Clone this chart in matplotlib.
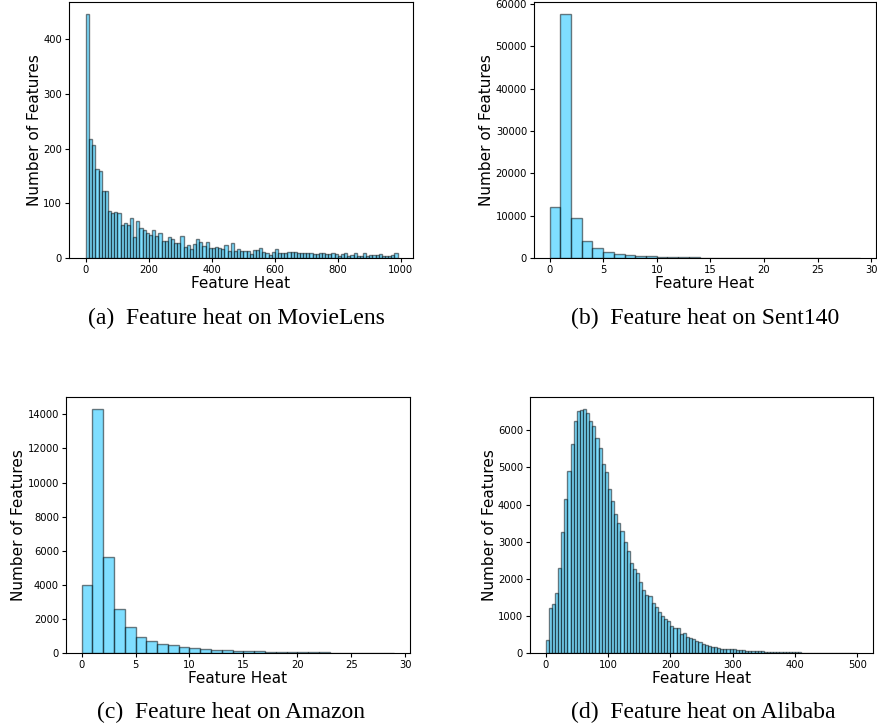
import numpy as np
import matplotlib
matplotlib.use("Agg")
import matplotlib.pyplot as plt

# bin edges (feature heat) for each dataset
movielens_edges = np.arange(0, 1000, 10)      # 99 bins, 0..990
sent140_edges = np.arange(0, 30, 1)           # 29 bins, 0..29
amazon_edges = np.arange(0, 30, 1)            # 29 bins, 0..29
alibaba_edges = np.arange(0, 505, 5)          # 100 bins, 0..500

# counts
movielens_counts = [
    446, 217, 207, 163, 159, 122, 122, 86, 82, 85,
    82, 60, 64, 60, 73, 39, 68, 54, 51, 45,
    42, 52, 40, 45, 32, 32, 39, 34, 28, 28,
    41, 21, 23, 16, 26, 35, 30, 22, 30, 18,
    18, 21, 18, 16, 24, 13, 27, 13, 16, 13,
    13, 12, 7, 15, 14, 19, 11, 9, 5, 11,
    16, 9, 9, 10, 11, 11, 11, 9, 10, 9,
    10, 9, 7, 7, 9, 9, 7, 8, 10, 7,
    4, 7, 9, 4, 5, 9, 4, 4, 10, 4,
    5, 6, 5, 7, 4, 3, 4, 5, 9,
]
sent140_counts = [
    12100, 57600, 9350, 4000, 2250, 1450, 1050, 750, 550, 380,
    270, 210, 170, 140, 115, 95, 80, 65, 55, 45,
    38, 32, 27, 23, 20, 17, 15, 13, 11,
]
amazon_counts = [
    3980, 14300, 5640, 2600, 1500, 950, 700, 510, 460, 380,
    300, 250, 200, 175, 145, 115, 95, 78, 64, 52,
    44, 37, 31, 26, 22, 19, 16, 13, 11,
]
alibaba_counts = [
    360, 1210, 1320, 1620, 2290, 3260, 4150, 4900, 5620, 6240,
    6510, 6540, 6570, 6470, 6240, 6110, 5790, 5530, 5090, 4870,
    4430, 4090, 3740, 3500, 3290, 2990, 2740, 2430, 2260, 2150,
    1910, 1710, 1550, 1530, 1350, 1240, 1100, 990, 910, 850,
    720, 680, 670, 510, 540, 440, 400, 370, 320, 290,
    250, 215, 190, 170, 150, 135, 120, 110, 105, 100,
    95, 88, 80, 72, 65, 60, 55, 50, 46, 42,
    38, 35, 32, 29, 26, 24, 22, 20, 18, 17,
    16, 14, 13, 12, 11, 10, 9, 9, 8, 7,
    7, 6, 6, 5, 5, 5, 4, 4, 4, 3,
]

captions = [
    "(a)  Feature heat on MovieLens",
    "(b)  Feature heat on Sent140",
    "(c)  Feature heat on Amazon",
    "(d)  Feature heat on Alibaba",
]

W, H = 877, 728
fig = plt.figure(figsize=(W / 100, H / 100), dpi=100)


def px_axes(x0, y0, x1, y1):
    # pixel box (top-left origin) -> figure fraction axes
    return fig.add_axes([x0 / W, 1 - y1 / H, (x1 - x0) / W, (y1 - y0) / H])


panels = [
    (px_axes(69, 2, 413, 258), movielens_edges, movielens_counts, (236, 318), (-54, 1039)),
    (px_axes(534, 2, 876, 258), sent140_edges, sent140_counts, (705, 318), (-1.45, 30.45)),
    (px_axes(66, 397, 410, 653), amazon_edges, amazon_counts, (231, 712), (-1.45, 30.45)),
    (px_axes(530, 397, 873, 653), alibaba_edges, alibaba_counts, (703, 712), (-25, 525)),
]

for (ax, edges, counts, cap_xy, xlim), cap in zip(panels, captions):
    edges = np.append(edges, edges[-1] + (edges[1] - edges[0])) if len(edges) == len(counts) else edges
    ax.hist(edges[:-1], bins=edges, weights=counts, color="deepskyblue",
            alpha=0.5, edgecolor="black", linewidth=1.0)
    ax.set_xlim(*xlim)
    ax.set_xlabel("Feature Heat", fontsize=11, labelpad=1)
    ax.set_ylabel("Number of Features", fontsize=11, labelpad=1)
    ax.tick_params(labelsize=7.2, length=3, pad=2)
    fig.text(cap_xy[0] / W, 1 - cap_xy[1] / H, cap, ha="center", va="center",
             family="Liberation Serif", fontsize=17)

fig.savefig("out.png", dpi=100)
